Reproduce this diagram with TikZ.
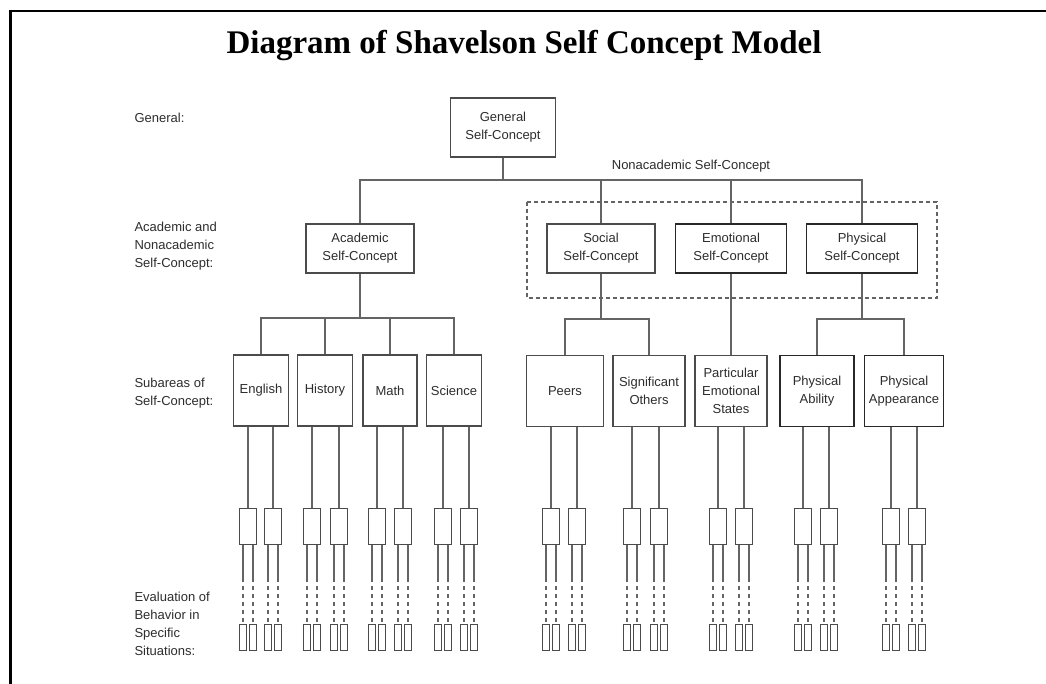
\documentclass[tikz,border=0pt]{standalone}
\usepackage{fontspec}
\setmainfont{Liberation Serif}
\newfontfamily\arialf{Liberation Sans}
\definecolor{txtc}{RGB}{45,45,45}
\definecolor{boxc}{RGB}{75,75,75}
\definecolor{tboxc}{RGB}{40,40,40}
\definecolor{linec}{RGB}{100,100,100}
\begin{document}
\begin{tikzpicture}[x=1pt,y=-1pt,
  txt/.style={text=txtc, font=\arialf\fontsize{13}{18}\selectfont, align=center},
  box/.style={txt, draw=boxc, line width=1.1pt, inner sep=0pt, minimum height=49pt},
  tbox/.style={box, line width=1.8pt, draw=tboxc},
  subbox/.style={box, minimum height=71pt},
  tsubbox/.style={tbox, minimum height=71pt},
  lbl/.style={txt, align=left, anchor=west},
  conn/.style={draw=linec, line width=1.5pt},
  dconn/.style={conn, dash pattern=on 4pt off 4pt, dash phase=4pt},
  smallbox/.style={draw=boxc, line width=1pt, inner sep=0pt, minimum width=17pt, minimum height=36pt},
  tinybox/.style={draw=boxc, line width=1pt, inner sep=0pt, minimum width=7.5pt, minimum height=26pt},
]
\fill[white] (0,0) rectangle (1046,684);
\useasboundingbox (0,0) rectangle (1046,684);
% frame
\draw[line width=2.4pt, black] (10.5,684) -- (10.5,11) -- (1046,11);
% title
\node[font=\bfseries\fontsize{33}{38}\selectfont, anchor=base] (title) at (524,54) {Diagram of Shavelson Self Concept Model};
% row labels
\node[lbl] (lg) at (131,118) {General:};
\node[lbl] (la) at (131,246) {Academic and\\Nonacademic\\Self-Concept:};
\node[lbl] (ls) at (131,393.5) {Subareas of\\Self-Concept:};
\node[lbl] (le) at (131,624) {Evaluation of\\Behavior in\\Specific\\Situations:};
% dashed group
\draw[linec, line width=1.2pt, dash pattern=on 4pt off 3pt] (527,202) rectangle (937,298);
\node[txt] (nonac) at (691,166) {Nonacademic Self-Concept};
% level 1
\node[box, minimum width=105pt, minimum height=59pt] (G) at (503,127.5) {General\\Self-Concept};
% level 2
\node[box, minimum width=108pt] (A) at (360,248.5) {Academic\\Self-Concept};
\node[box, minimum width=108pt] (S) at (601,248.5) {Social\\Self-Concept};
\node[tbox, minimum width=111pt] (E) at (731,248.5) {Emotional\\Self-Concept};
\node[tbox, minimum width=111pt] (P) at (862,248.5) {Physical\\Self-Concept};
% level 3
\node[subbox, minimum width=55pt] (eng) at (261,390.5) {English};
\node[subbox, minimum width=55pt] (his) at (325,390.5) {History};
\node[subbox, minimum width=54pt] (mat) at (390,390.5) {Math};
\node[subbox, minimum width=55pt] (sci) at (454,390.5) {Science};
\node[subbox, minimum width=77pt] (pee) at (565,391) {Peers};
\node[subbox, minimum width=72pt] (sig) at (649,391) {Significant\\Others};
\node[subbox, minimum width=72pt] (par) at (731,391) {Particular\\Emotional\\States};
\node[tsubbox, minimum width=74pt] (abi) at (817,391) {Physical\\Ability};
\node[tsubbox, minimum width=79pt] (app) at (904,391) {Physical\\Appearance};
% tree connectors
\coordinate (jt) at (503,180);
\draw[conn] (G) -- (jt);
\draw[conn] (A.north) |- (jt);
\draw[conn] (S.north) |- (jt);
\draw[conn] (E.north) |- (jt);
\draw[conn] (P.north) |- (jt);
\coordinate (ja) at (360,318);
\draw[conn] (A) -- (ja);
\draw[conn] (eng.north) |- (ja);
\draw[conn] (his.north) |- (ja);
\draw[conn] (mat.north) |- (ja);
\draw[conn] (sci.north) |- (ja);
\coordinate (js) at (601,319);
\draw[conn] (S) -- (js);
\draw[conn] (pee.north) |- (js);
\draw[conn] (sig.north) |- (js);
\draw[conn] (E) -- (par);
\coordinate (jp) at (862,319);
\draw[conn] (P) -- (jp);
\draw[conn] (abi.north) |- (jp);
\draw[conn] (app.north) |- (jp);
% behaviour evaluations
\foreach \bx/\xa/\xb in {eng/248/273, his/312/339, mat/377/403, sci/443/469, pee/551/577, sig/632/659, par/718/744, abi/803/829, app/891/917}{
  \foreach \s/\xx in {a/\xa, b/\xb}{
    \node[smallbox] (\bx\s) at (\xx,526) {};
    \draw[conn] (\bx.south -| \bx\s) -- (\bx\s.north);
    \foreach \t/\d in {l/-5, r/5}{
      \node[tinybox] (\bx\s\t) at (\xx+\d,637.5) {};
      \coordinate (\bx\s\t c) at (\xx+\d,582);
      \draw[conn] (\bx\s.south -| \bx\s\t c) -- (\bx\s\t c);
      \draw[dconn] (\bx\s\t c) -- (\bx\s\t.north);
    }
  }
}
\end{tikzpicture}
\end{document}
